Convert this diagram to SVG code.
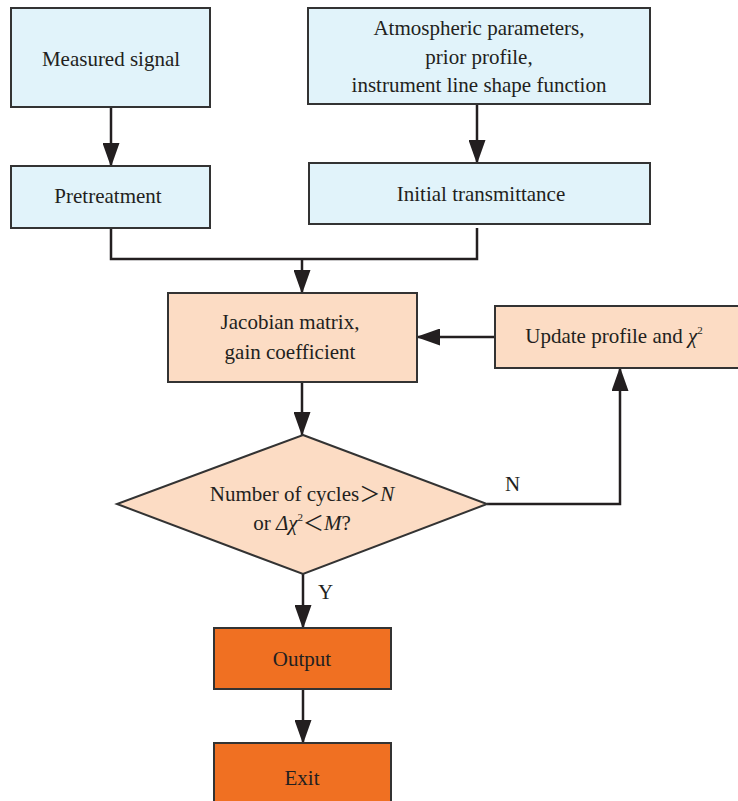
<svg xmlns="http://www.w3.org/2000/svg" width="738" height="801" viewBox="0 0 738 801">
<defs>
<marker id="ah" markerWidth="24" markerHeight="17" refX="23" refY="8.5" orient="auto" markerUnits="userSpaceOnUse" viewBox="0 0 24 17">
<path d="M0,0 L24,8.5 L0,17 Z" fill="#231f20"/>
</marker>
<style>
.blue{fill:#e1f3fa;stroke:#333;stroke-width:2}
.peach{fill:#fcdcc4;stroke:#333;stroke-width:2}
.orange{fill:#f07022;stroke:#333;stroke-width:2}
text{font-family:"Liberation Serif","Times New Roman",serif;font-size:21px;fill:#231f20;text-anchor:middle}
.cjk{font-family:"Noto Sans CJK SC",sans-serif}
.lbl{text-anchor:start}
.conn{fill:none;stroke:#231f20;stroke-width:2.5}
</style>
</defs>
<rect width="738" height="801" fill="#fff"/>
<g id="connectors">
<path class="conn" d="M111,107 L111,166" marker-end="url(#ah)"/>
<path class="conn" d="M477,104 L477,163" marker-end="url(#ah)"/>
<path class="conn" d="M111,228 L111,259 L477,259 L477,228"/>
<path class="conn" d="M302,259 L302,293" marker-end="url(#ah)"/>
<path class="conn" d="M495,337 L417,337" marker-end="url(#ah)"/>
<path class="conn" d="M302,382 L302,435" marker-end="url(#ah)"/>
<path class="conn" d="M487,504 L620,504 L620,368" marker-end="url(#ah)"/>
<path class="conn" d="M303,574 L303,628" marker-end="url(#ah)"/>
<path class="conn" d="M303,689 L303,743" marker-end="url(#ah)"/>
<text class="lbl" x="505" y="491">N</text>
<text class="lbl" x="318" y="599">Y</text>
</g>
<g id="measured">
<rect class="blue" x="11" y="8" width="199" height="99"/>
<text x="111" y="66">Measured signal</text>
</g>
<g id="atmos">
<rect class="blue" x="308" y="8" width="342" height="96"/>
<text x="479" y="35">Atmospheric parameters,</text>
<text x="479" y="64">prior profile,</text>
<text x="479" y="92">instrument line shape function</text>
</g>
<g id="pretreatment">
<rect class="blue" x="11" y="166" width="199" height="62"/>
<text x="108" y="203">Pretreatment</text>
</g>
<g id="initial">
<rect class="blue" x="309" y="163" width="341" height="61"/>
<text x="481" y="201">Initial transmittance</text>
</g>
<g id="jacobian">
<rect class="peach" x="168" y="293" width="249" height="89"/>
<text x="290" y="329">Jacobian matrix,</text>
<text x="290" y="359">gain coefficient</text>
</g>
<g id="update">
<rect class="peach" x="495" y="306" width="250" height="62"/>
<text x="614" y="343">Update profile and <tspan font-style="italic">χ</tspan><tspan font-size="11" dy="-9">2</tspan></text>
</g>
<g id="decision">
<polygon class="peach" points="303,435 487,504 303,574 117,504"/>
<text x="302" y="501">Number of cycles<tspan class="cjk">＞</tspan><tspan font-style="italic">N</tspan></text>
<text x="302" y="530">or <tspan font-style="italic">Δχ</tspan><tspan font-size="11" dy="-9">2</tspan><tspan class="cjk" dy="9">＜</tspan><tspan font-style="italic">M</tspan>?</text>
</g>
<g id="output">
<rect class="orange" x="214" y="628" width="177" height="61"/>
<text x="302" y="666">Output</text>
</g>
<g id="exit">
<rect class="orange" x="214" y="743" width="177" height="70"/>
<text x="302" y="785">Exit</text>
</g>
</svg>
